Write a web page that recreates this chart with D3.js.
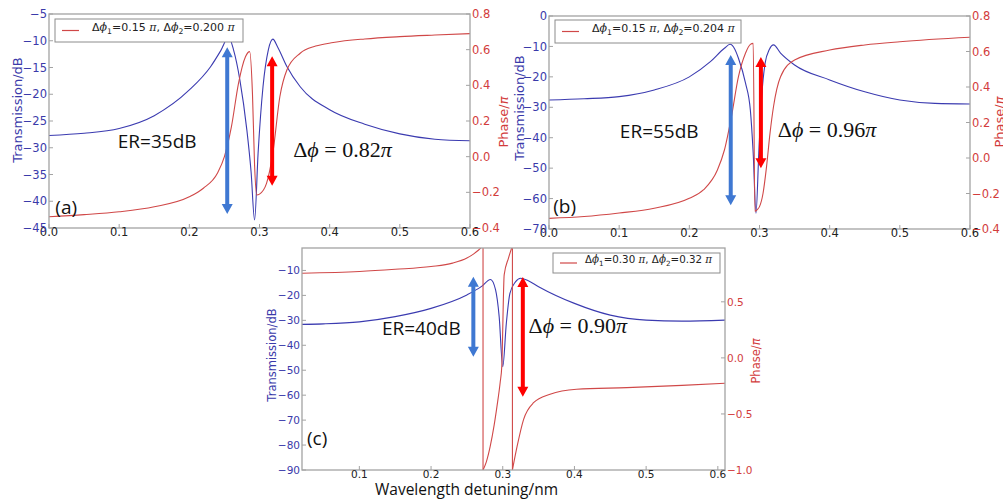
<!DOCTYPE html>
<html>
<head>
<meta charset="utf-8">
<script src="https://cdn.jsdelivr.net/npm/d3@7"></script>
<style>
body { margin: 0; background: #fff; }
svg { display: block; }
</style>
</head>
<body>
<svg id="chart" width="1003" height="502"></svg>
<script>
// ---- data ----
let panelTags = ['(a)', '(b)', '(c)']
let erLabels = ['ER=35dB', 'ER=55dB', 'ER=40dB']
let dphiValues = ['0.82', '0.96', '0.90']
let legendPhi1 = ['0.15', '0.15', '0.30']
let legendPhi2 = ['0.200', '0.204', '0.32']

let xTicksAB = [0, 0.1, 0.2, 0.3, 0.4, 0.5, 0.6]
let xTicksC = [0.1, 0.2, 0.3, 0.4, 0.5, 0.6]
let leftTicksA = [-45, -40, -35, -30, -25, -20, -15, -10, -5]
let leftTicksB = [-70, -60, -50, -40, -30, -20, -10, 0]
let leftTicksC = [-90, -80, -70, -60, -50, -40, -30, -20, -10]
let rightTicksAB = [-0.4, -0.2, 0, 0.2, 0.4, 0.6, 0.8]
let rightTicksC = [-1, -0.5, 0, 0.5]

// (a) transmission (dB) and phase (pi)
let aTransX = [0, 0.05, 0.1, 0.15, 0.2, 0.23, 0.245, 0.256, 0.263, 0.272, 0.282, 0.288, 0.293, 0.298, 0.305, 0.3126, 0.319, 0.326, 0.339, 0.358, 0.4, 0.45, 0.5, 0.55, 0.6]
let aTransDb = [-27.7, -27.3, -26.4, -24.0, -19.2, -14.9, -11.8, -9.3, -11.7, -17.3, -26.7, -34.5, -43.5, -31, -18.6, -11.7, -9.7, -11.2, -14.8, -18.6, -22.9, -25.6, -27.4, -28.4, -28.7]
let aPhaseX = [0, 0.05, 0.1, 0.15, 0.2, 0.22, 0.24, 0.25, 0.26, 0.27, 0.28, 0.286, 0.29, 0.293, 0.296, 0.3, 0.31, 0.319, 0.329, 0.339, 0.358, 0.38, 0.405, 0.45, 0.5, 0.55, 0.6]
let aPhase = [-0.337, -0.325, -0.309, -0.281, -0.225, -0.177, -0.093, 0.0, 0.168, 0.41, 0.56, 0.589, 0.35, -0.05, -0.215, -0.21, -0.15, 0.02, 0.336, 0.486, 0.58, 0.62, 0.64, 0.66, 0.673, 0.682, 0.69]

// (b)
let bTransX = [0, 0.05, 0.1, 0.15, 0.2, 0.23, 0.25, 0.258, 0.265, 0.27, 0.28, 0.287, 0.291, 0.295, 0.299, 0.303, 0.308, 0.314, 0.32, 0.33, 0.35, 0.4, 0.45, 0.5, 0.55, 0.6]
let bTransDb = [-27.6, -27.2, -26.5, -24.3, -20, -15, -10.6, -9.3, -11, -13.9, -22, -31, -45, -64.8, -45, -27, -15.5, -11, -9.5, -12.2, -16.1, -21, -24.9, -27.6, -28.7, -28.9]
let bPhaseX = [0, 0.05, 0.1, 0.15, 0.2, 0.22, 0.24, 0.25, 0.26, 0.27, 0.28, 0.287, 0.291, 0.2935, 0.297, 0.3, 0.305, 0.31, 0.315, 0.32, 0.33, 0.35, 0.4, 0.45, 0.5, 0.6]
let bPhase = [-0.34, -0.33, -0.31, -0.283, -0.227, -0.18, -0.068, 0.045, 0.233, 0.458, 0.59, 0.64, 0.646, -0.3, -0.29, -0.274, -0.2, -0.05, 0.14, 0.29, 0.458, 0.552, 0.608, 0.637, 0.655, 0.68]

// (c) phase wraps twice, so it comes in three pieces
let cTransX = [0.02, 0.05, 0.1, 0.15, 0.2, 0.25, 0.27, 0.283, 0.29, 0.295, 0.3, 0.305, 0.31, 0.318, 0.325, 0.335, 0.35, 0.4, 0.45, 0.5, 0.55, 0.61]
let cTransDb = [-31.6, -31.4, -30.6, -28.5, -25.2, -19.8, -16.5, -13.6, -17.8, -28.5, -48.6, -31.2, -19.2, -14.5, -13.1, -14, -16.5, -23.2, -27.9, -29.9, -30.3, -29.9]
let cPhaseX1 = [0.02, 0.1, 0.15, 0.2, 0.23, 0.25, 0.26, 0.266, 0.2725]
let cPhase1 = [0.755, 0.77, 0.79, 0.815, 0.845, 0.89, 0.93, 0.96, 1.0]
let cPhaseX2 = [0.2725, 0.277, 0.2825, 0.288, 0.292, 0.2964, 0.2987, 0.302, 0.308, 0.3135]
let cPhase2 = [-1.0, -0.93, -0.79, -0.6, -0.43, -0.22, -0.07, 0.74, 0.89, 1.0]
let cPhaseX3 = [0.3135, 0.32, 0.329, 0.343, 0.366, 0.403, 0.473, 0.55, 0.61]
let cPhase3 = [-1.0, -0.79, -0.55, -0.4, -0.325, -0.28, -0.265, -0.245, -0.226]

// arrows (dB span they mark) and where the notes sit, in data units
let blueArrowX = [0.254, 0.259, 0.259]
let blueArrowTop = [-11.2, -12.8, -12.5]
let blueArrowBottom = [-42.4, -62.2, -44.6]
let redArrowX = [0.318, 0.302, 0.328]
let redArrowTop = [-12.9, -13.5, -12.6]
let redArrowBottom = [-37.1, -50, -60.6]
let erPos = [[0.098, -30], [0.101, -40.1], [0.1315, -35.9]]
let dphiPos = [[0.348, -31.7], [0.326, -39.8], [0.336, -35.2]]
let tagPos = [[0.009, -42.4], [0.006, -64.8], [0.027, -80]]

let blue = '#3b3bb0'
let blueText = '#3a3aaa'
let red = '#d04848'
let redText = '#d23c3c'
let frame = '#a3a3a3'

let svg = d3.select('#chart')
svg.append('rect').attr('width', 1003).attr('height', 502).attr('fill', '#fff')

let panels = [
    {
        left: 49, right: 470, top: 14, bottom: 228,
        xDomain: [0, 0.6], yDomain: [-45, -5], rDomain: [-0.4, 0.8],
        xTicks: xTicksAB, yTicks: leftTicksA, rTicks: rightTicksAB,
        tickSize: 11.5, titleSize: 13,
        trans: d3.zip(aTransX, aTransDb), phase: [d3.zip(aPhaseX, aPhase)],
        legend: { dx: 6, dy: 5, w: 188, h: 23, size: 11, right: false },
        yLabelX: 17, yLabelY: 110, rLabelX: 503, rLabelY: 122
    },
    {
        left: 549, right: 970, top: 16, bottom: 229,
        xDomain: [0, 0.6], yDomain: [-70, 0], rDomain: [-0.4, 0.8],
        xTicks: xTicksAB, yTicks: leftTicksB, rTicks: rightTicksAB,
        tickSize: 11.5, titleSize: 13,
        trans: d3.zip(bTransX, bTransDb), phase: [d3.zip(bPhaseX, bPhase)],
        legend: { dx: 6, dy: 4, w: 186, h: 23, size: 11, right: false },
        yLabelX: 519, yLabelY: 108, rLabelX: 999, rLabelY: 122
    },
    {
        left: 302, right: 725, top: 248, bottom: 470,
        xDomain: [0.02, 0.61], yDomain: [-90, -1], rDomain: [-1, 0.98],
        xTicks: xTicksC, yTicks: leftTicksC, rTicks: rightTicksC,
        tickSize: 10.5, titleSize: 11.5,
        trans: d3.zip(cTransX, cTransDb),
        phase: [d3.zip(cPhaseX1, cPhase1), d3.zip(cPhaseX2, cPhase2), d3.zip(cPhaseX3, cPhase3)],
        legend: { dx: 5, dy: 5, w: 167, h: 20, size: 10.3, right: true },
        yLabelX: 272, yLabelY: 355, rLabelX: 756, rLabelY: 361
    }
]

let doubleArrow = (x, y1, y2, hw, hl, sw) => {
    return 'M' + (x - sw) + ',' + (y1 + hl) + 'L' + (x - hw) + ',' + (y1 + hl) + 'L' + x + ',' + y1 +
        'L' + (x + hw) + ',' + (y1 + hl) + 'L' + (x + sw) + ',' + (y1 + hl) +
        'L' + (x + sw) + ',' + (y2 - hl) + 'L' + (x + hw) + ',' + (y2 - hl) + 'L' + x + ',' + y2 +
        'L' + (x - hw) + ',' + (y2 - hl) + 'L' + (x - sw) + ',' + (y2 - hl) + 'Z'
}

let drawPanel = (p, i) => {
    let x = d3.scaleLinear().domain(p.xDomain).range([p.left, p.right])
    let y = d3.scaleLinear().domain(p.yDomain).range([p.bottom, p.top])
    let yr = d3.scaleLinear().domain(p.rDomain).range([p.bottom, p.top])
    let fmt1 = d3.format('.1f')
    let g = svg.append('g')

    g.append('clipPath').attr('id', 'clip' + i)
        .append('rect')
        .attr('x', p.left).attr('y', p.top)
        .attr('width', p.right - p.left).attr('height', p.bottom - p.top)

    let transLine = d3.line().x(d => x(d[0])).y(d => y(d[1])).curve(d3.curveMonotoneX)
    let phaseLine = d3.line().x(d => x(d[0])).y(d => yr(d[1])).curve(d3.curveMonotoneX)
    let jumpLine = d3.line().x(d => x(d[0])).y(d => yr(d[1]))

    let plot = g.append('g').attr('clip-path', 'url(#clip' + i + ')')
    plot.append('path')
        .attr('d', transLine(p.trans))
        .attr('fill', 'none').attr('stroke', blue).attr('stroke-width', 1.1)
    plot.selectAll('path.phase')
        .data(p.phase)
        .enter()
        .append('path')
        .attr('class', 'phase')
        .attr('d', seg => phaseLine(seg))
        .attr('fill', 'none').attr('stroke', red).attr('stroke-width', 1.1)
    // vertical wrap lines between pieces
    for (let k = 1; k < p.phase.length; k++) {
        let a = p.phase[k - 1][p.phase[k - 1].length - 1]
        let b = p.phase[k][0]
        plot.append('path')
            .attr('d', jumpLine([a, b]))
            .attr('stroke', red).attr('stroke-width', 1.1)
    }

    // frame
    g.append('rect')
        .attr('x', p.left).attr('y', p.top)
        .attr('width', p.right - p.left).attr('height', p.bottom - p.top)
        .attr('fill', 'none').attr('stroke', frame).attr('stroke-width', 1.3)

    // ticks
    g.selectAll('line.xt').data(p.xTicks).enter().append('line')
        .attr('class', 'xt')
        .attr('x1', d => x(d)).attr('x2', d => x(d))
        .attr('y1', p.bottom).attr('y2', p.bottom - 4)
        .attr('stroke', frame)
    g.selectAll('text.xl').data(p.xTicks).enter().append('text')
        .attr('class', 'xl')
        .attr('x', d => x(d)).attr('y', p.bottom + p.tickSize * 0.72)
        .attr('text-anchor', 'middle')
        .attr('font-family', 'DejaVu Sans').attr('font-size', p.tickSize).attr('fill', '#222')
        .text(d => fmt1(d))
    g.selectAll('line.yt').data(p.yTicks).enter().append('line')
        .attr('class', 'yt')
        .attr('x1', p.left).attr('x2', p.left + 4)
        .attr('y1', d => y(d)).attr('y2', d => y(d))
        .attr('stroke', frame)
    g.selectAll('text.yl').data(p.yTicks).enter().append('text')
        .attr('class', 'yl')
        .attr('x', p.left - 2).attr('y', d => y(d)).attr('dy', '0.36em')
        .attr('text-anchor', 'end')
        .attr('font-family', 'DejaVu Sans').attr('font-size', p.tickSize).attr('fill', blueText)
        .text(d => d3.format('d')(d))
    g.selectAll('line.rt').data(p.rTicks).enter().append('line')
        .attr('class', 'rt')
        .attr('x1', p.right).attr('x2', p.right - 4)
        .attr('y1', d => yr(d)).attr('y2', d => yr(d))
        .attr('stroke', frame)
    g.selectAll('text.rl').data(p.rTicks).enter().append('text')
        .attr('class', 'rl')
        .attr('x', p.right + 2).attr('y', d => yr(d)).attr('dy', '0.36em')
        .attr('font-family', 'DejaVu Sans').attr('font-size', p.tickSize).attr('fill', redText)
        .text(d => fmt1(d))

    // axis titles
    g.append('text')
        .attr('transform', 'translate(' + p.yLabelX + ',' + p.yLabelY + ') rotate(-90)')
        .attr('text-anchor', 'middle').attr('dy', '0.35em')
        .attr('font-family', 'DejaVu Sans').attr('font-size', p.titleSize).attr('fill', blueText)
        .text('Transmission/dB')
    let rl = g.append('text')
        .attr('transform', 'translate(' + p.rLabelX + ',' + p.rLabelY + ') rotate(-90)')
        .attr('text-anchor', 'middle').attr('dy', '0.35em')
        .attr('font-family', 'DejaVu Sans').attr('font-size', p.titleSize).attr('fill', redText)
    rl.append('tspan').text('Phase/')
    rl.append('tspan').attr('font-style', 'italic').text('π')

    // legend
    let L = p.legend
    let lx = L.right ? p.right - L.dx - L.w : p.left + L.dx
    let ly = p.top + L.dy
    g.append('rect')
        .attr('x', lx).attr('y', ly).attr('width', L.w).attr('height', L.h)
        .attr('fill', '#fff').attr('stroke', '#8c8c8c').attr('stroke-width', 1)
    g.append('line')
        .attr('x1', lx + 7).attr('x2', lx + 24)
        .attr('y1', ly + L.h / 2).attr('y2', ly + L.h / 2)
        .attr('stroke', red).attr('stroke-width', 1.2)
    let lt = g.append('text')
        .attr('x', lx + (L.right ? 32 : 37)).attr('y', ly + L.h / 2).attr('dy', '0.35em')
        .attr('font-family', 'DejaVu Sans').attr('font-size', L.size).attr('fill', '#222')
    let parts = [
        ['Δ', 0, null], ['ϕ', 0, 'italic'], ['1', 3, 'sub'], ['=' + legendPhi1[i] + ' ', -3, null], ['π', 0, 'italic'],
        [', Δ', 0, null], ['ϕ', 0, 'italic'], ['2', 3, 'sub'], ['=' + legendPhi2[i] + ' ', -3, null], ['π', 0, 'italic']
    ]
    parts.forEach(pt => {
        let t = lt.append('tspan').attr('dy', pt[1]).text(pt[0])
        if (pt[2] === 'italic') t.attr('font-style', 'italic').attr('font-family', 'DejaVu Serif')
        if (pt[2] === 'sub') t.attr('font-size', L.size * 0.7)
    })

    // notes
    g.append('text')
        .attr('x', x(erPos[i][0])).attr('y', y(erPos[i][1]))
        .attr('font-family', 'Open Sans').attr('font-size', 19).attr('fill', '#111')
        .text(erLabels[i])
    let dt = g.append('text')
        .attr('x', x(dphiPos[i][0])).attr('y', y(dphiPos[i][1]))
        .attr('font-family', 'Liberation Serif').attr('font-size', 22).attr('fill', '#111')
    dt.append('tspan').text('Δ')
    dt.append('tspan').attr('font-style', 'italic').text('ϕ')
    dt.append('tspan').text(' = ' + dphiValues[i])
    dt.append('tspan').attr('font-style', 'italic').text('π')
    g.append('text')
        .attr('x', x(tagPos[i][0])).attr('y', y(tagPos[i][1]))
        .attr('font-family', 'Open Sans').attr('font-size', 19).attr('fill', '#111')
        .text(panelTags[i])

    // arrows
    g.append('path')
        .attr('d', doubleArrow(x(blueArrowX[i]), y(blueArrowTop[i]), y(blueArrowBottom[i]), 5.5, 10, 2))
        .attr('fill', '#3f78d2')
    g.append('path')
        .attr('d', doubleArrow(x(redArrowX[i]), y(redArrowTop[i]), y(redArrowBottom[i]), 5.5, 10, 2))
        .attr('fill', '#ff0000')
}

panels.forEach(drawPanel)

svg.append('text')
    .attr('x', 375).attr('y', 495)
    .attr('font-family', 'Open Sans').attr('font-size', 15.5).attr('fill', '#111')
    .text('Wavelength detuning/nm')
</script>
</body>
</html>
